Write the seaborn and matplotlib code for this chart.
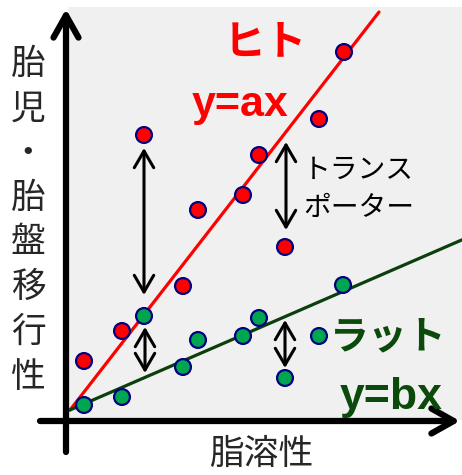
import numpy as np
import pandas as pd
import matplotlib
matplotlib.use("Agg")
import matplotlib.pyplot as plt
from matplotlib.patches import Rectangle
import seaborn as sns

# data (x: 脂溶性, y: 胎児・胎盤移行性)
human_x = [1.8, 5.6, 11.7, 7.8, 13.2, 17.7, 19.3, 21.9, 25.3, 27.8]
human_y = [6.0, 9.0, 13.5, 28.6, 21.1, 22.6, 26.6, 17.4, 30.2, 36.9]
rat_x = [1.8, 5.6, 7.8, 11.7, 13.2, 17.7, 19.3, 21.9, 25.3, 27.7]
rat_y = [1.6, 2.4, 10.5, 5.4, 8.1, 8.5, 10.3, 4.3, 8.5, 13.6]

# fitted lines y = c + slope * x
slope_a, icpt_a, xrange_a = 1.288, 0.58, [0.4, 31.3]
slope_b, icpt_b, xrange_b = 0.434, 0.93, [0.4, 39.6]

# double arrows (x, top, bottom)
arrow_x = [7.8, 7.9, 22.0, 21.9]
arrow_top = [27.3, 9.4, 27.9, 10.1]
arrow_bot = [12.6, 4.8, 19.1, 5.3]

ylabel_chars = ["胎", "児", "・", "胎", "盤", "移", "行", "性"]
xlabel = "脂溶性"

RED = "#ff0000"
DKGREEN = "#0b4a0b"
LINEGREEN = "#0b3f0b"
PTGREEN = "#00a550"
NAVY = "#000080"
JP = ["Noto Sans CJK JP", "DejaVu Sans"]
LAT = ["Liberation Sans", "DejaVu Sans"]

sns.set_style("white")

df = pd.DataFrame({
    "x": human_x + rat_x,
    "y": human_y + rat_y,
    "species": ["ヒト"] * len(human_x) + ["ラット"] * len(rat_x),
})
lines = pd.DataFrame({
    "x": xrange_a + xrange_b,
    "y": [icpt_a + slope_a * v for v in xrange_a] + [icpt_b + slope_b * v for v in xrange_b],
    "species": ["ヒト"] * 2 + ["ラット"] * 2,
})

fig = plt.figure(figsize=(4.62, 4.75), dpi=100)
ax = fig.add_axes([0, 0, 1, 1])
ax.set_xlim(-6.6, 39.6)
ax.set_ylim(-5.4, 42.1)
ax.axis("off")

ax.add_patch(Rectangle((0.2, 0.1), 39.4, 41.3, facecolor="#f0f0f0", edgecolor="none", zorder=0))

sns.lineplot(data=lines, x="x", y="y", hue="species", palette={"ヒト": RED, "ラット": LINEGREEN},
             linewidth=2.3, legend=False, ax=ax, zorder=2)
sns.scatterplot(data=df, x="x", y="y", hue="species", palette={"ヒト": RED, "ラット": PTGREEN},
                s=130, edgecolor=NAVY, linewidth=1.6, legend=False, ax=ax, zorder=3)

for xv, t, b in zip(arrow_x, arrow_top, arrow_bot):
    ax.annotate("", xy=(xv, t), xytext=(xv, b),
                arrowprops=dict(arrowstyle="<->,head_length=1.2,head_width=0.7", lw=2.2,
                                color="black", shrinkA=0, shrinkB=0), zorder=4)

# axes arrows
ax.annotate("", xy=(0, 41.2), xytext=(0, -3.1),
            arrowprops=dict(arrowstyle="->,head_length=1.6,head_width=0.9", lw=4.5,
                            color="black", shrinkA=0, shrinkB=0))
ax.annotate("", xy=(39.4, 0), xytext=(-2.6, 0),
            arrowprops=dict(arrowstyle="->,head_length=1.6,head_width=0.9", lw=4.5,
                            color="black", shrinkA=0, shrinkB=0))

ax.text(19.9, 37.9, "ヒト", color=RED, fontsize=30, fontweight="bold", family=JP, ha="center", va="center")
ax.text(17.4, 31.6, "y=ax", color=RED, fontsize=31, fontweight="bold", family=LAT, ha="center", va="center")
ax.text(23.7, 25.1, "トランス", color="black", fontsize=20, family=JP, ha="left", va="center")
ax.text(23.7, 21.3, "ポーター", color="black", fontsize=20, family=JP, ha="left", va="center")
ax.text(32.2, 8.4, "ラット", color=DKGREEN, fontsize=28, fontweight="bold", family=JP, ha="center", va="center")
ax.text(32.5, 2.35, "y=bx", color=DKGREEN, fontsize=32, fontweight="bold", family=LAT, ha="center", va="center")

ys = np.linspace(35.7, 4.4, len(ylabel_chars))
for ch, yv in zip(ylabel_chars, ys):
    ax.text(-3.8, yv, ch, fontsize=25, family=JP, ha="center", va="center")
ax.text(19.5, -3.3, xlabel, fontsize=25, family=JP, ha="center", va="center")

fig.savefig("out.png", dpi=100)
